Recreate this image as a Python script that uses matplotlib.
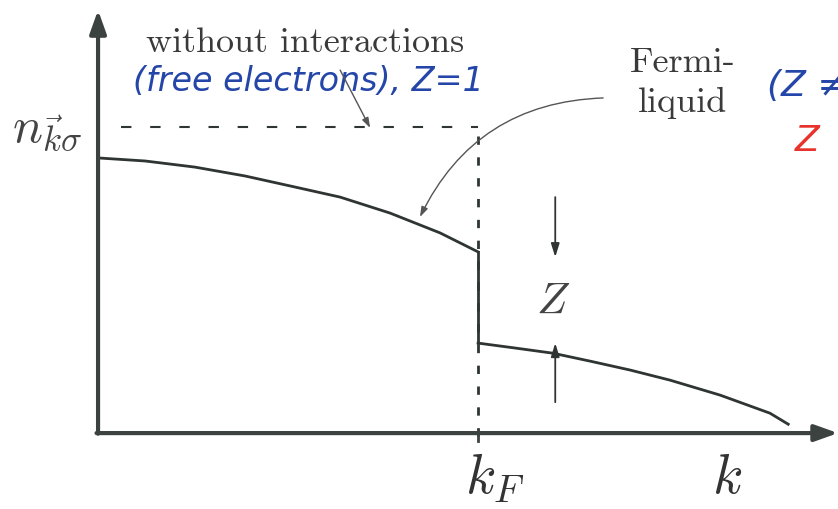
import matplotlib
matplotlib.use('Agg')
import matplotlib.pyplot as plt

plt.rcParams['mathtext.fontset'] = 'cm'

# occupation n(k) with k in units of k_F, read along the two branches
k_below = [0.0, 0.124, 0.255, 0.387, 0.518, 0.637, 0.768, 0.900, 1.0]
n_below = [0.899, 0.889, 0.869, 0.840, 0.804, 0.771, 0.719, 0.654, 0.592]
k_above = [1.0, 1.097, 1.197, 1.295, 1.400, 1.505, 1.637, 1.768, 1.816]
n_above = [0.294, 0.278, 0.261, 0.235, 0.206, 0.173, 0.124, 0.065, 0.029]
k_fermi = 1.0
n_free = 1.0
k_z = 1.203

axis_col = '#3b4240'
line_col = '#2f3533'
blue = '#2446a8'
red = '#e8322c'

fig = plt.figure(figsize=(8.38, 5.09), dpi=100)
ax = fig.add_axes([0, 0, 1, 1])
ax.set_xlim(-0.258, 1.947)
ax.set_ylim(-0.248, 1.415)
ax.axis('off')

# axes with arrow heads
ax.annotate('', xy=(0, 1.382), xytext=(0, -0.002),
            arrowprops=dict(arrowstyle='-|>,head_length=1.4,head_width=0.5',
                            color=axis_col, lw=3, shrinkA=0, shrinkB=0))
ax.annotate('', xy=(1.947, 0), xytext=(-0.004, 0),
            arrowprops=dict(arrowstyle='-|>,head_length=1.4,head_width=0.5',
                            color=axis_col, lw=3, shrinkA=0, shrinkB=0))

# free electrons: step at k_F
ax.plot([0.06, k_fermi], [n_free, n_free], color=line_col, lw=1.5,
        linestyle=(0, (5, 9)))
ax.plot([k_fermi, k_fermi], [n_free - 0.03, -0.025], color=line_col, lw=2,
        linestyle=(0, (3, 4.5)))
ax.plot([k_fermi, k_fermi], [0, -0.025], color=axis_col, lw=2)

# Fermi liquid with jump Z
ax.plot(k_below, n_below, color=line_col, lw=2, solid_joinstyle='round')
ax.plot([k_fermi, k_fermi], [n_below[-1], n_above[0]], color=line_col, lw=2)
ax.plot(k_above, n_above, color=line_col, lw=2, solid_joinstyle='round')

ax.annotate('', xy=(k_z, n_below[-1] - 0.017), xytext=(k_z, 0.771),
            arrowprops=dict(arrowstyle='-|>,head_length=0.8,head_width=0.25',
                            color=line_col, lw=1.3, shrinkA=0, shrinkB=0))
ax.annotate('', xy=(k_z, n_above[0]), xytext=(k_z, 0.101),
            arrowprops=dict(arrowstyle='-|>,head_length=0.8,head_width=0.25',
                            color=line_col, lw=1.3, shrinkA=0, shrinkB=0))
ax.text(k_z - 0.005, 0.431, r'$Z$', fontsize=32, color='#444',
        ha='center', va='center')

# labels
ax.text(-0.134, 0.99, r'$n_{\vec{k}\sigma}$', fontsize=36, color='#444',
        ha='center', va='center')
ax.text(1.045, -0.15, r'$k_F$', fontsize=40, color='#333',
        ha='center', va='center')
ax.text(1.655, -0.147, r'$k$', fontsize=40, color='#333',
        ha='center', va='center')

ax.text(0.545, 1.275, 'without interactions', family='cmr10', fontsize=26,
        color='#3a3a3a', ha='center', va='center')
ax.text(0.553, 1.15, '(free electrons), Z=1', fontsize=24, color=blue,
        style='italic', family='DejaVu Sans', ha='center', va='center')
ax.annotate('', xy=(0.716, 0.997), xytext=(0.637, 1.186),
            arrowprops=dict(arrowstyle='-|>,head_length=0.6,head_width=0.2',
                            color='#555', lw=1, shrinkA=0, shrinkB=0))

ax.text(1.539, 1.209, 'Fermi-', family='cmr10', fontsize=26,
        color='#3a3a3a', ha='center', va='center')
ax.text(1.539, 1.078, 'liquid', family='cmr10', fontsize=26,
        color='#3a3a3a', ha='center', va='center')
ax.annotate('', xy=(0.847, 0.706), xytext=(1.329, 1.095),
            arrowprops=dict(arrowstyle='-|>,head_length=0.6,head_width=0.2',
                            color='#555', lw=1, shrinkA=0, shrinkB=0,
                            connectionstyle='arc3,rad=0.3'))

# side notes running off the right edge
ax.text(1.761, 1.135, '(Z ≠', fontsize=26, color=blue, style='italic',
        family='DejaVu Sans', ha='left', va='center')
ax.text(1.865, 0.955, 'Z', fontsize=26, color=red, style='italic',
        family='DejaVu Sans', ha='center', va='center')

fig.savefig('out.png', dpi=100)
